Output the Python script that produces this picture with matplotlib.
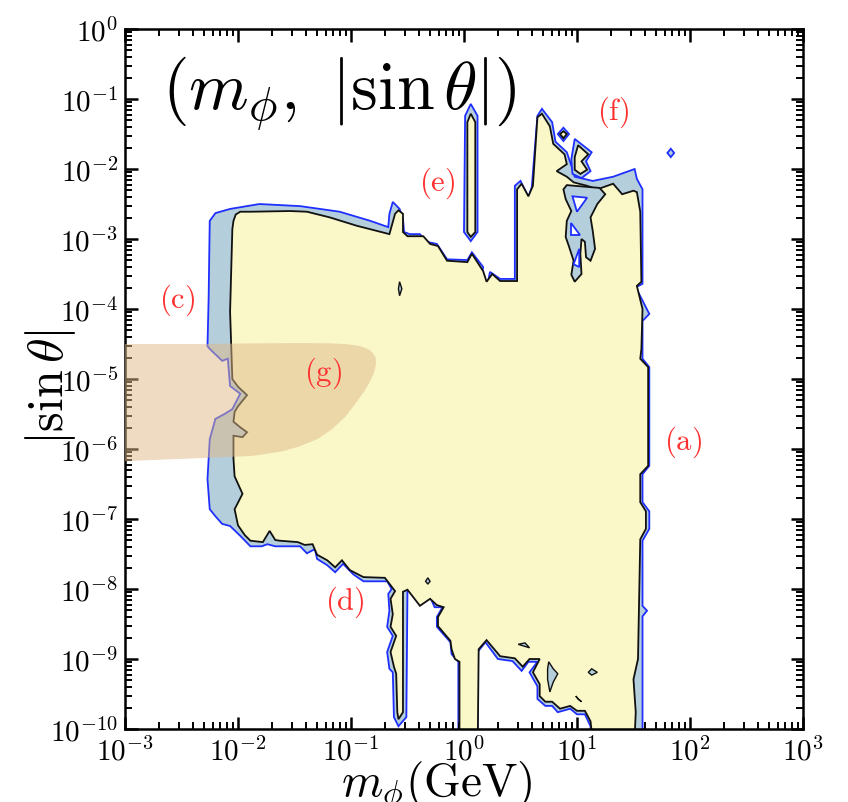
import numpy as np
import matplotlib
matplotlib.use("Agg")
import matplotlib.pyplot as plt
from matplotlib.ticker import LogLocator, NullFormatter, FixedLocator, FixedFormatter

plt.rcParams['mathtext.fontset'] = 'cm'
plt.rcParams['font.family'] = ['DejaVu Serif']

# ---------------- data (log10 m_phi [GeV], log10 |sin theta|) ----------------
# outer (blue) allowed region boundary
outer_lx = [-2.25, -2.20, -2.07, -1.81, -1.45, -1.10, -0.83, -0.67, -0.66, -0.63, -0.57, -0.54, -0.53,
            -0.48, -0.39, -0.33, -0.24, -0.15, 0.03, 0.07, 0.17, 0.15, 0.12, 0.20, 0.23, 0.32, 0.45,
            0.45, 0.50, 0.57, 0.60, 0.65, 0.69, 0.78, 0.81, 0.91, 0.96, 0.98, 1.14, 1.32, 1.51, 1.53,
            1.58, 1.58, 1.58, 1.58, 1.52, 1.64, 1.58, 1.58, 1.64, 1.64, 1.58, 1.58, 1.64, 1.64, 1.58,
            1.58, 1.62, 1.58, 1.58,
            1.12, 1.12, 1.07, 1.00, 0.94, 0.83, 0.78, 0.72, 0.65, 0.65, 0.58, 0.65, 0.57, 0.51, 0.43,
            0.30, 0.19, 0.12, 0.12,
            -0.05, -0.05, -0.11, -0.12, -0.24, -0.24, -0.19, -0.26, -0.30, -0.39, -0.50, -0.51, -0.58,
            -0.62, -0.63, -0.66, -0.68, -0.63, -0.68, -0.66, -0.67, -0.64, -0.68, -0.89, -0.98, -1.07,
            -1.14, -1.21, -1.30, -1.32, -1.39, -1.45, -1.67, -1.74, -1.79, -1.89, -1.98, -2.07, -2.14,
            -2.20, -2.25, -2.27, -2.25, -2.20, -2.12, -2.05, -1.98, -2.07, -2.09, -2.14, -2.25, -2.27,
            -2.26]
outer_ly = [-2.74, -2.63, -2.57, -2.50, -2.53, -2.61, -2.74, -2.83, -2.64, -2.47, -2.57, -2.71, -2.90,
            -2.93, -2.93, -3.04, -3.07, -3.29, -3.30, -3.19, -3.40, -3.60, -3.71, -3.71, -3.47, -3.57,
            -3.57, -2.24, -2.17, -2.40, -2.26, -1.24, -1.14, -1.33, -1.61, -1.76, -2.00, -2.11, -2.17,
            -2.11, -2.00, -2.14, -2.29, -2.67, -2.74, -3.64, -3.69, -4.07, -4.17, -4.71, -4.83, -6.24,
            -6.36, -6.76, -6.89, -7.14, -7.31, -8.24, -8.31, -8.39, -10.5,
            -10.5, -9.96, -9.79, -9.79, -9.71, -9.76, -9.67, -9.67, -9.57, -9.39, -9.19, -9.04, -9.04,
            -9.17, -9.03, -9.00, -8.76, -8.90, -10.5,
            -10.5, -9.04, -8.93, -8.76, -8.54, -8.40, -8.26, -8.26, -8.11, -8.21, -8.00, -9.83, -9.96,
            -9.83, -9.19, -9.14, -8.90, -8.67, -8.54, -8.31, -8.07, -8.00, -7.89, -7.89, -7.79, -7.64,
            -7.76, -7.66, -7.57, -7.43, -7.49, -7.39, -7.39, -7.36, -7.39, -7.39, -7.24, -7.10, -7.07,
            -6.96, -6.86, -6.43, -5.86, -5.57, -5.50, -5.43, -5.21, -5.10, -4.71, -4.74, -4.57, -4.53,
            -3.86]

# inner (yellow) region boundary
inner_lx = [-2.04, -2.02, -1.98, -1.89, -1.54, -1.39, -1.19, -0.95, -0.66, -0.61, -0.58, -0.54, -0.54,
            -0.50, -0.36, -0.30, -0.23, -0.15, 0.03, 0.07, 0.17, 0.20, 0.25, 0.32, 0.47, 0.47, 0.51,
            0.57, 0.61, 0.65, 0.69, 0.76, 0.79, 0.89, 0.91, 0.82, 0.91, 0.97, 1.09, 1.18, 1.32, 1.40,
            1.50, 1.53, 1.56, 1.57, 1.53, 1.58, 1.57, 1.56, 1.63, 1.63, 1.56, 1.56, 1.61, 1.61, 1.56,
            1.54, 1.50, 1.52, 1.50,
            1.16, 1.12, 1.07, 1.00, 0.94, 0.85, 0.78, 0.72, 0.67, 0.67, 0.61, 0.67, 0.58, 0.52, 0.45,
            0.32, 0.20, 0.13, 0.12,
            -0.04, -0.04, -0.08, -0.11, -0.12, -0.23, -0.23, -0.18, -0.24, -0.30, -0.39, -0.50, -0.54,
            -0.54, -0.58, -0.59, -0.60, -0.62, -0.65, -0.60, -0.65, -0.63, -0.65, -0.61, -0.70, -0.89,
            -1.01, -1.08, -1.14, -1.21, -1.30, -1.34, -1.41, -1.47, -1.63, -1.67, -1.72, -1.78, -1.89,
            -1.94, -2.00, -2.03, -1.96, -2.03, -2.04, -2.04, -1.96, -1.92, -1.98, -2.04, -2.03, -2.00,
            -1.92, -2.00, -2.05, -2.07, -2.05]
inner_ly = [-2.74, -2.65, -2.61, -2.61, -2.60, -2.61, -2.69, -2.81, -2.93, -2.64, -2.59, -2.64, -2.90,
            -2.96, -2.96, -3.07, -3.10, -3.31, -3.33, -3.21, -3.46, -3.61, -3.50, -3.60, -3.60, -2.29,
            -2.21, -2.39, -2.24, -1.26, -1.21, -1.39, -1.64, -1.79, -1.93, -2.03, -2.11, -2.19, -2.24,
            -2.29, -2.21, -2.36, -2.31, -2.33, -2.61, -3.61, -3.67, -4.00, -4.57, -4.71, -4.83, -6.24,
            -6.36, -6.76, -6.89, -7.14, -7.29, -9.00, -9.29, -9.76, -10.5,
            -10.5, -9.89, -9.74, -9.74, -9.67, -9.71, -9.61, -9.61, -9.53, -9.36, -9.19, -9.00, -9.00,
            -9.11, -8.99, -8.96, -8.73, -8.86, -10.5,
            -10.5, -9.04, -9.00, -8.86, -8.74, -8.53, -8.40, -8.26, -8.23, -8.14, -8.24, -8.01, -8.04,
            -9.76, -9.86, -9.76, -9.21, -9.11, -8.90, -8.67, -8.54, -8.36, -8.14, -8.03, -7.84, -7.83,
            -7.73, -7.59, -7.69, -7.59, -7.51, -7.36, -7.37, -7.33, -7.31, -7.30, -7.17, -7.33, -7.31,
            -7.23, -7.09, -6.86, -6.64, -6.39, -6.14, -5.81, -5.83, -5.76, -5.69, -5.61, -5.47, -5.39,
            -5.23, -5.11, -5.00, -4.04, -2.86]

# narrow strip (e)
strip_outer_lx = [0.06, 0.01, 0.00, 0.06, 0.12, 0.12]
strip_outer_ly = [-1.07, -1.24, -2.90, -3.03, -2.90, -1.24]
strip_inner_lx = [0.06, 0.03, 0.03, 0.06, 0.10, 0.10]
strip_inner_ly = [-1.21, -1.33, -2.90, -2.97, -2.90, -1.33]

# blue tendril hanging in the (f) region, and the white holes inside it
tendril_lx = [0.91, 1.20, 1.25, 1.18, 1.12, 1.14, 1.16, 1.12, 1.08, 1.07, 1.04, 1.03, 1.04, 0.98,
              0.95, 0.97, 0.93, 0.90, 0.91, 0.95, 0.90, 0.88]
tendril_ly = [-2.23, -2.27, -2.36, -2.50, -2.69, -2.89, -3.14, -3.31, -3.26, -3.04, -3.00, -3.21,
              -3.50, -3.61, -3.51, -3.31, -3.11, -2.97, -2.74, -2.60, -2.43, -2.29]
holes_lx = [[0.96, 1.09, 1.00], [0.95, 0.95, 1.03], [0.97, 1.02, 1.02]]
holes_ly = [[-2.39, -2.41, -2.61], [-2.77, -2.94, -2.94], [-3.36, -3.14, -3.40]]

# islands (outer blue outline + inner yellow)
island_outer_lx = [[0.88, 0.93, 0.88, 0.83], [0.98, 1.13, 1.08, 1.12, 1.04, 0.96, 0.95],
                   [1.83, 1.86, 1.83, 1.80]]
island_outer_ly = [[-1.41, -1.50, -1.60, -1.50], [-1.57, -1.76, -1.89, -2.03, -2.13, -2.07, -1.86],
                   [-1.71, -1.77, -1.83, -1.77]]
island_inner_lx = [[0.88, 0.91, 0.88, 0.85], [1.01, 1.10, 1.04, 1.09, 1.03, 0.98, 0.98]]
island_inner_ly = [[-1.46, -1.50, -1.56, -1.50], [-1.66, -1.79, -1.89, -2.01, -2.07, -2.01, -1.83]]

# small excluded (blue) spots inside the yellow region
spots_lx = [[-0.57, -0.55, -0.57, -0.58], [0.48, 0.54, 0.58, 0.52],
            [0.75, 0.79, 0.83, 0.79, 0.76, 0.74, 0.74], [1.10, 1.13, 1.18, 1.13],
            [0.99, 1.01, 1.04, 1.01], [-0.32, -0.30, -0.32, -0.34]]
spots_ly = [[-3.61, -3.71, -3.81, -3.71], [-8.79, -8.77, -8.84, -8.81],
            [-9.04, -9.14, -9.21, -9.33, -9.47, -9.29, -9.14], [-9.19, -9.14, -9.19, -9.23],
            [-9.53, -9.57, -9.61, -9.57], [-7.84, -7.89, -7.93, -7.89]]

# region (g)
g_lx = [-3.10, -2.34, -1.80, -1.45, -1.20, -1.05, -0.95, -0.90, -0.84, -0.81, -0.78, -0.78, -0.80,
        -0.84, -0.88, -0.96, -1.05, -1.17, -1.30, -1.45, -1.60, -1.75, -1.89, -2.34, -3.10]
g_ly = [-4.50, -4.50, -4.49, -4.486, -4.49, -4.50, -4.52, -4.54, -4.58, -4.62, -4.70, -4.80, -4.93,
        -5.06, -5.17, -5.35, -5.54, -5.72, -5.86, -5.96, -6.03, -6.07, -6.10, -6.13, -6.18]

labels = [r'$\mathrm{(a)}$', r'$\mathrm{(c)}$', r'$\mathrm{(d)}$', r'$\mathrm{(e)}$',
          r'$\mathrm{(f)}$', r'$\mathrm{(g)}$']
labels_lx = [1.94, -2.54, -1.05, -0.24, 1.32, -1.25]
labels_ly = [-5.89, -3.86, -8.17, -2.19, -1.17, -4.90]

xticks = [1e-3, 1e-2, 1e-1, 1e0, 1e1, 1e2, 1e3]
xtick_labels = [r'$10^{-3}$', r'$10^{-2}$', r'$10^{-1}$', r'$10^{0}$', r'$10^{1}$', r'$10^{2}$', r'$10^{3}$']
yticks = [1e-10, 1e-9, 1e-8, 1e-7, 1e-6, 1e-5, 1e-4, 1e-3, 1e-2, 1e-1, 1e0]
ytick_labels = [r'$10^{-10}$', r'$10^{-9}$', r'$10^{-8}$', r'$10^{-7}$', r'$10^{-6}$', r'$10^{-5}$',
                r'$10^{-4}$', r'$10^{-3}$', r'$10^{-2}$', r'$10^{-1}$', r'$10^{0}$']

# ---------------- styling ----------------
BLUE_FILL = '#b4cedc'
BLUE_LINE = '#1f2fff'
YELLOW = '#faf7c9'
G_COLOR = '#deb887'
RED = '#ff3030'

fig = plt.figure(figsize=(8.48, 8.03), dpi=100)
ax = fig.add_axes([0.1474, 0.0909, 0.7995, 0.8717])
ax.set_xscale('log')
ax.set_yscale('log')


def P(lx, ly):
    return 10.0 ** np.asarray(lx), 10.0 ** np.asarray(ly)


lw = 1.3
ax.fill(*P(outer_lx, outer_ly), facecolor=BLUE_FILL, edgecolor=BLUE_LINE, lw=lw, zorder=1)
for lx, ly in zip(island_outer_lx, island_outer_ly):
    ax.fill(*P(lx, ly), facecolor=BLUE_FILL, edgecolor=BLUE_LINE, lw=lw, zorder=1)
ax.fill(*P(strip_outer_lx, strip_outer_ly), facecolor=BLUE_FILL, edgecolor=BLUE_LINE, lw=lw, zorder=1)

ax.fill(*P(inner_lx, inner_ly), facecolor=YELLOW, edgecolor='#111111', lw=lw, zorder=2)
ax.fill(*P(strip_inner_lx, strip_inner_ly), facecolor=YELLOW, edgecolor='#111111', lw=lw, zorder=2)
for lx, ly in zip(island_inner_lx, island_inner_ly):
    ax.fill(*P(lx, ly), facecolor=YELLOW, edgecolor='#111111', lw=lw, zorder=2)

ax.fill(*P(tendril_lx, tendril_ly), facecolor=BLUE_FILL, edgecolor='#111111', lw=lw, zorder=3)
for lx, ly in zip(holes_lx, holes_ly):
    ax.fill(*P(lx, ly), facecolor='white', edgecolor=BLUE_LINE, lw=lw, zorder=4)
for lx, ly in zip(spots_lx, spots_ly):
    ax.fill(*P(lx, ly), facecolor=BLUE_FILL, edgecolor='#111111', lw=1.0, zorder=3)

ax.fill(*P(g_lx, g_ly), facecolor=G_COLOR, edgecolor='none', alpha=0.5, zorder=5)

for t, lx, ly in zip(labels, labels_lx, labels_ly):
    ax.text(10 ** lx, 10 ** ly, t, color=RED, fontsize=22, ha='center', va='center', zorder=6)

ax.text(0.054, 0.886, r'$(m_\phi,\ |\sin\theta|)$', transform=ax.transAxes, fontsize=49,
        ha='left', va='baseline', zorder=6)

ax.set_xlim(1e-3, 1e3)
ax.set_ylim(1e-10, 1e0)

ax.xaxis.set_major_locator(FixedLocator(xticks))
ax.xaxis.set_major_formatter(FixedFormatter(xtick_labels))
ax.yaxis.set_major_locator(FixedLocator(yticks))
ax.yaxis.set_major_formatter(FixedFormatter(ytick_labels))
ax.xaxis.set_minor_locator(LogLocator(base=10, subs=np.arange(2, 10), numticks=100))
ax.yaxis.set_minor_locator(LogLocator(base=10, subs=np.arange(2, 10), numticks=100))
ax.xaxis.set_minor_formatter(NullFormatter())
ax.yaxis.set_minor_formatter(NullFormatter())

ax.tick_params(which='both', direction='in', top=True, right=True, labelsize=21)
ax.tick_params(which='major', length=9, width=1.8)
ax.tick_params(axis='y', which='major', pad=5)
ax.tick_params(axis='x', which='major', pad=5)
ax.tick_params(which='minor', length=5, width=1.4)
for s in ax.spines.values():
    s.set_linewidth(1.8)

ax.set_xlabel(r'$m_\phi(\mathrm{GeV})$', fontsize=34)
ax.set_ylabel(r'$|\sin\theta|$', fontsize=36)
ax.xaxis.set_label_coords(0.46, -0.043)
ax.yaxis.set_label_coords(-0.07, 0.49)

fig.savefig('out.png', dpi=100)
